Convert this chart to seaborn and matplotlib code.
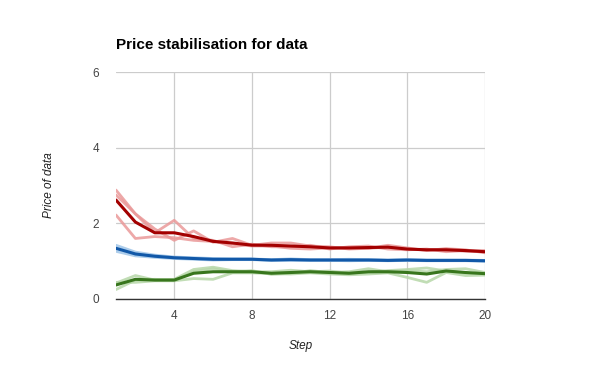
import pandas as pd
import seaborn as sns
import matplotlib.pyplot as plt
import numpy as np

steps = list(range(1, 21))

# individual runs
red_runs = [
    [2.88, 2.25, 1.85, 1.55, 1.80, 1.50, 1.60, 1.42, 1.48, 1.48, 1.40, 1.38, 1.32, 1.34, 1.42, 1.35, 1.28, 1.33, 1.30, 1.22],
    [2.75, 2.25, 1.75, 2.08, 1.60, 1.55, 1.38, 1.45, 1.38, 1.38, 1.42, 1.32, 1.38, 1.40, 1.32, 1.30, 1.32, 1.25, 1.28, 1.28],
    [2.22, 1.60, 1.65, 1.62, 1.55, 1.52, 1.46, 1.40, 1.40, 1.34, 1.32, 1.35, 1.35, 1.34, 1.37, 1.31, 1.30, 1.32, 1.26, 1.25],
]
blue_runs = [
    [1.42, 1.24, 1.16, 1.11, 1.09, 1.07, 1.06, 1.06, 1.04, 1.06, 1.04, 1.04, 1.05, 1.04, 1.03, 1.04, 1.03, 1.03, 1.03, 1.02],
    [1.34, 1.19, 1.13, 1.09, 1.07, 1.05, 1.05, 1.05, 1.03, 1.04, 1.03, 1.03, 1.03, 1.03, 1.02, 1.03, 1.02, 1.02, 1.02, 1.01],
    [1.26, 1.14, 1.10, 1.07, 1.05, 1.03, 1.04, 1.04, 1.02, 1.02, 1.02, 1.02, 1.01, 1.02, 1.01, 1.02, 1.01, 1.01, 1.01, 1.00],
]
green_runs = [
    [0.25, 0.50, 0.52, 0.50, 0.72, 0.80, 0.72, 0.75, 0.65, 0.68, 0.75, 0.70, 0.72, 0.80, 0.72, 0.75, 0.72, 0.78, 0.80, 0.70],
    [0.42, 0.62, 0.50, 0.52, 0.78, 0.84, 0.75, 0.72, 0.72, 0.76, 0.72, 0.74, 0.68, 0.70, 0.75, 0.78, 0.82, 0.74, 0.68, 0.68],
    [0.44, 0.44, 0.48, 0.48, 0.54, 0.52, 0.69, 0.69, 0.67, 0.66, 0.69, 0.66, 0.64, 0.66, 0.69, 0.57, 0.44, 0.70, 0.62, 0.63],
]

rows = []
for name, runs in [("red", red_runs), ("blue", blue_runs), ("green", green_runs)]:
    for r, vals in enumerate(runs):
        for s, v in zip(steps, vals):
            rows.append({"step": s, "price": v, "series": name, "run": f"{name}{r}"})
df = pd.DataFrame(rows)

light = {"red": "#ea9999", "blue": "#9fc5e8", "green": "#b6d7a8"}
dark = {"red": "#a30000", "blue": "#1158a8", "green": "#38761d"}

sns.set_style("white")
plt.rcParams['font.family'] = ['Liberation Sans', 'DejaVu Sans']

fig = plt.figure(figsize=(6, 3.71), dpi=100)
ax = fig.add_axes([0.1933, 0.1941, 0.615, 0.6118])

sns.lineplot(data=df, x="step", y="price", hue="series", units="run", estimator=None,
             palette=light, linewidth=2.0, alpha=0.85, legend=False, ax=ax)
sns.lineplot(data=df, x="step", y="price", hue="series", errorbar=None,
             palette=dark, linewidth=2.2, legend=False, ax=ax)

ax.set_xlim(1, 20)
ax.set_ylim(0, 6)
ax.set_xticks([4, 8, 12, 16, 20])
ax.set_yticks([0, 2, 4, 6])
ax.grid(True, color="#cccccc", linewidth=0.9)
ax.set_axisbelow(True)
for side in ["top", "right", "left"]:
    ax.spines[side].set_visible(False)
ax.spines["bottom"].set_color("#333333")
ax.spines["bottom"].set_linewidth(1.0)
ax.tick_params(axis="both", length=0, labelsize=8.5, labelcolor="#444444")
ax.tick_params(axis="x", pad=8)
ax.tick_params(axis="y", pad=12)

ax.set_xlabel("Step", fontstyle="italic", fontsize=8.5, color="#222222", labelpad=13)
ax.set_ylabel("Price of data", fontstyle="italic", fontsize=8.5, color="#222222", labelpad=27)
fig.text(0.1933, 0.878, "Price stabilisation for data", fontsize=11, fontweight="bold",
         ha="left", va="center", color="#000000")

plt.savefig("out.png", dpi=100)
